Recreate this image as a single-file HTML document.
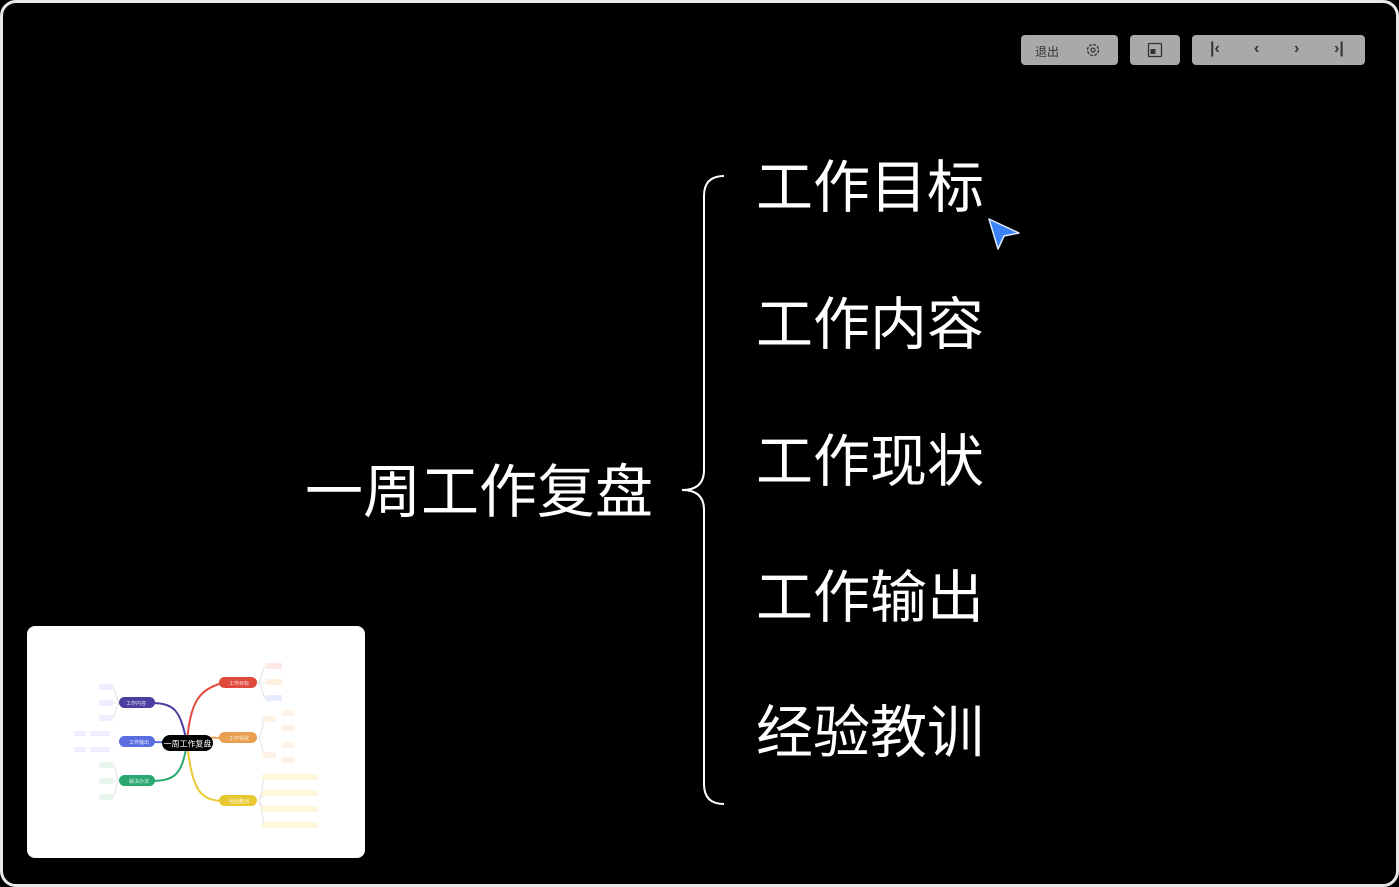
<!DOCTYPE html>
<html><head><meta charset="utf-8"><style>
html,body{margin:0;padding:0;background:#000;}
body{width:1399px;height:887px;position:relative;overflow:hidden;font-family:"Liberation Sans","Noto Sans CJK SC",sans-serif;}
.frame{position:absolute;left:0;top:0;width:1393px;height:881px;border:3px solid #e8e8e8;border-radius:16px;background:#000;}
.t{position:absolute;color:#fff;font-size:57px;line-height:57px;white-space:nowrap;font-weight:400;}
.btn{position:absolute;top:35px;height:30px;background:#a9a9a9;border-radius:4px;color:#333;font-size:12px;}
</style></head><body>
<div class="frame"></div>
<div class="btn" style="left:1021px;width:97px;"><span style="position:absolute;left:14px;top:8px;">退出</span>
<svg style="position:absolute;left:64px;top:7px" width="16" height="16" viewBox="0 0 16 16"><circle cx="8" cy="8" r="5.5" fill="none" stroke="#333" stroke-width="1.3" stroke-dasharray="3 1.3"/><circle cx="8" cy="8" r="2" fill="none" stroke="#333" stroke-width="1.2"/></svg></div>
<div class="btn" style="left:1130px;width:50px;"><svg style="position:absolute;left:17px;top:7px" width="16" height="16"><rect x="1.5" y="1.5" width="13" height="13" fill="none" stroke="#333" stroke-width="1.3" rx="1"/><rect x="3.5" y="7" width="5" height="5" fill="#333"/></svg></div>
<div class="btn" style="left:1192px;width:173px;font-size:16px;font-weight:bold;">
<span style="position:absolute;left:18px;top:5px;">|&lsaquo;</span>
<span style="position:absolute;left:62px;top:5px;">&lsaquo;</span>
<span style="position:absolute;left:102px;top:5px;">&rsaquo;</span>
<span style="position:absolute;left:142px;top:5px;">&rsaquo;|</span></div>

<div class="t" style="left:305px;top:464px;font-size:58px;">一周工作复盘</div>
<div class="t" style="left:756px;top:160px;">工作目标</div>
<div class="t" style="left:756px;top:297px;">工作内容</div>
<div class="t" style="left:756px;top:434px;">工作现状</div>
<div class="t" style="left:756px;top:570px;">工作输出</div>
<div class="t" style="left:756px;top:705px;">经验教训</div>

<svg style="position:absolute;left:0;top:0" width="1399" height="887">
<path d="M724,176 Q704,176 704,196 L704,470 Q704,490 682,490 Q704,490 704,510 L704,784 Q704,804 724,804" fill="none" stroke="#fff" stroke-width="2"/>
<path d="M989,219 L1019,233 L1004,236 L998,249 Z" fill="#3b82f6" stroke="#dfe8ff" stroke-width="1.5" stroke-linejoin="round"/>
</svg>

<div style="position:absolute;left:27px;top:626px;width:338px;height:232px;background:#fff;border-radius:8px;overflow:hidden;">
<svg width="338" height="232" viewBox="27 626 338 232" style="font-family:'Noto Sans CJK SC',sans-serif">
<g fill="none" stroke-width="2">
<path d="M187,743 C190,700 200,690 222,683" stroke="#e04a3c"/>
<path d="M187,743 C200,738 205,737 222,738" stroke="#e8a050"/>
<path d="M187,743 C192,790 200,800 222,801" stroke="#e8c830"/>
<path d="M187,743 C180,710 175,703 150,703" stroke="#4a3fa0"/>
<path d="M187,743 C170,742 165,742 150,742" stroke="#5a6ee0"/>
<path d="M187,743 C182,775 175,781 150,781" stroke="#2aa870"/>
</g>
<g fill="none" stroke="#ddd" stroke-width="0.8">
<path d="M258,683 C262,683 262,666 266,666 M258,683 L266,683 M258,683 C262,683 262,698 266,698"/>
<path d="M258,738 C262,738 262,719 266,719 M258,738 C262,738 262,756 266,756"/>
<path d="M258,801 C262,801 262,777 266,777 M258,801 C262,801 262,825 266,825 M258,801 L266,793 M258,801 L266,809"/>
<path d="M120,703 C116,703 116,687 112,687 M120,703 L112,703 M120,703 C116,703 116,718 112,718"/>
<path d="M120,781 C116,781 116,765 112,765 M120,781 L112,781 M120,781 C116,781 116,797 112,797"/>
</g>
<rect x="162" y="735" width="51" height="16" rx="8" fill="#000"/>
<text x="187.5" y="746.5" fill="#fff" font-size="8" text-anchor="middle">一周工作复盘</text>
<rect x="219" y="677" width="38" height="11" rx="5.5" fill="#e04a3c"/>
<rect x="219" y="732" width="38" height="11" rx="5.5" fill="#e8a050"/>
<rect x="219" y="795" width="38" height="11" rx="5.5" fill="#e8c830"/>
<rect x="119" y="697" width="36" height="11" rx="5.5" fill="#4a3fa0"/>
<rect x="119" y="736" width="36" height="11" rx="5.5" fill="#5a6ee0"/>
<rect x="119" y="775" width="36" height="11" rx="5.5" fill="#2aa870"/>
<g fill="#fff" font-size="5" opacity="0.85">
<text x="229" y="685">工作目标</text><text x="229" y="740">工作现状</text><text x="229" y="803">经验教训</text>
<text x="126" y="705">工作内容</text><text x="129" y="744">工作输出</text><text x="129" y="783">解决办法</text>
</g>
<g fill="#eef" font-size="4">
<rect x="99" y="684" width="14" height="6"/><rect x="99" y="700" width="14" height="6"/><rect x="99" y="715" width="14" height="6"/>
<rect x="99" y="762" width="14" height="6" fill="#eaf5ee"/><rect x="99" y="778" width="14" height="6" fill="#eaf5ee"/><rect x="99" y="794" width="14" height="6" fill="#eaf5ee"/>
<rect x="74" y="731" width="12" height="5"/><rect x="90" y="731" width="20" height="5"/>
<rect x="74" y="747" width="12" height="5"/><rect x="90" y="747" width="20" height="5"/>
<rect x="266" y="663" width="16" height="6" fill="#fde8e6"/><rect x="266" y="679" width="16" height="6" fill="#fdf0e0"/><rect x="266" y="695" width="16" height="6" fill="#e6ecfd"/>
<rect x="262" y="716" width="14" height="6" fill="#fdf3e6"/><rect x="282" y="710" width="12" height="6" fill="#fdf3e6"/><rect x="282" y="725" width="12" height="6" fill="#fdf3e6"/>
<rect x="262" y="752" width="14" height="6" fill="#fdf3e6"/><rect x="282" y="742" width="12" height="6" fill="#fdf3e6"/><rect x="282" y="757" width="12" height="6" fill="#fdf3e6"/>
<rect x="262" y="774" width="56" height="6" fill="#fdf8dc"/><rect x="262" y="790" width="56" height="6" fill="#fdf8dc"/><rect x="262" y="806" width="56" height="6" fill="#fdf8dc"/><rect x="262" y="822" width="56" height="6" fill="#fdf8dc"/>
</g>
</svg></div>
</body></html>
